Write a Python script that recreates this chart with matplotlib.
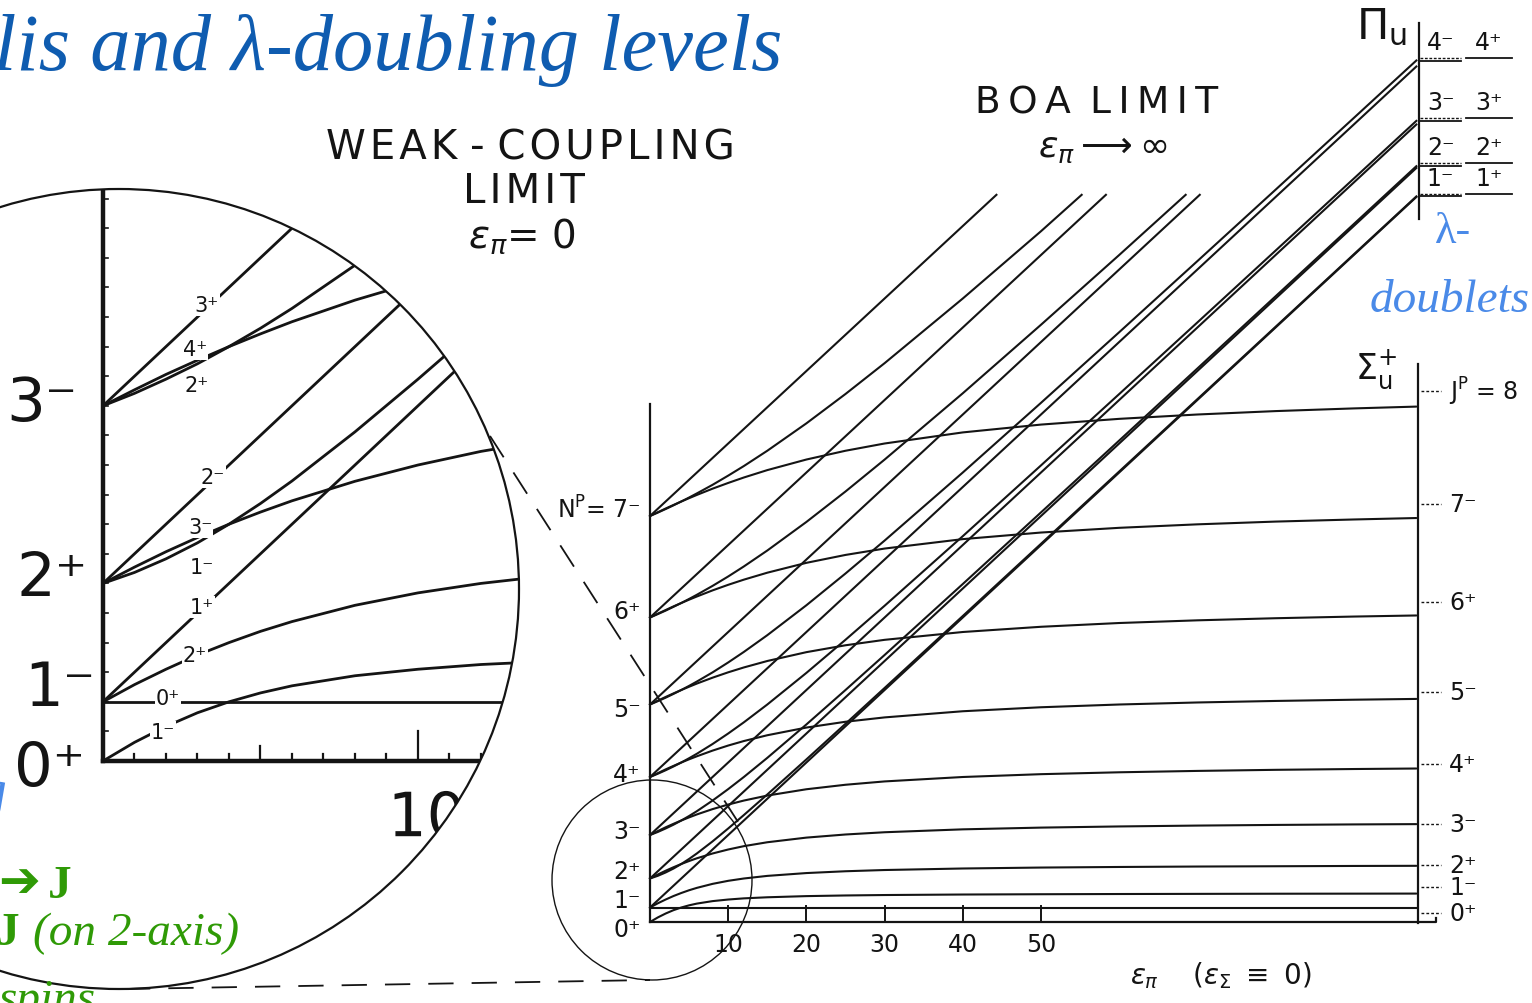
import matplotlib
matplotlib.use("Agg")
import matplotlib.pyplot as plt
from matplotlib.patches import Ellipse, PathPatch
from matplotlib.lines import Line2D
from matplotlib.textpath import TextPath
from matplotlib.font_manager import FontProperties
from matplotlib.transforms import Affine2D

W, H = 1532, 1004

# ---------------------------------------------------------------------------
# Level data (energies in units of the rotational constant B, eps_pi in B)
# ---------------------------------------------------------------------------
eps = [0, 1, 2, 3, 4, 5, 6, 8, 10, 12, 15, 20, 25, 30, 40, 50, 60, 70, 80, 90, 98]

# Sigma_u+ branches, J = 1..8 (flatten towards the strong-coupling limit)
sig1 = [0, 0.63, 1.17, 1.63, 2.0, 2.3, 2.54, 2.88, 3.1, 3.26, 3.41, 3.57, 3.66, 3.72, 3.79, 3.83, 3.86, 3.88, 3.9, 3.91, 3.92]
sig2 = [2, 2.58, 3.1, 3.58, 4.0, 4.38, 4.71, 5.26, 5.68, 6.0, 6.36, 6.75, 7.0, 7.17, 7.38, 7.51, 7.59, 7.65, 7.69, 7.73, 7.75]
sig3 = [6, 6.55, 7.07, 7.55, 8.0, 8.41, 8.79, 9.45, 10.0, 10.46, 11.0, 11.64, 12.07, 12.38, 12.78, 13.02, 13.18, 13.3, 13.39, 13.46, 13.5]
sig4 = [12, 12.54, 13.06, 13.54, 14.0, 14.43, 14.84, 15.57, 16.2, 16.75, 17.44, 18.31, 18.93, 19.39, 20.0, 20.39, 20.65, 20.84, 20.99, 21.1, 21.17]
sig5 = [20, 20.53, 21.05, 21.53, 22.0, 22.44, 22.86, 23.64, 24.34, 24.96, 25.76, 26.82, 27.62, 28.22, 29.07, 29.62, 30.0, 30.28, 30.49, 30.66, 30.77]
sig6 = [30, 30.53, 31.04, 31.53, 32.0, 32.45, 32.89, 33.7, 34.44, 35.11, 36.0, 37.22, 38.17, 38.92, 40.0, 40.72, 41.24, 41.61, 41.9, 42.13, 42.28]
sig7 = [42, 42.53, 43.03, 43.53, 44.0, 44.46, 44.9, 45.74, 46.51, 47.22, 48.18, 49.54, 50.63, 51.51, 52.81, 53.72, 54.37, 54.85, 55.23, 55.52, 55.72]
sig8 = [56, 56.52, 57.03, 57.52, 58.0, 58.46, 58.91, 59.77, 60.56, 61.31, 62.33, 63.79, 65.0, 66.0, 67.53, 68.61, 69.4, 70.0, 70.47, 70.84, 71.09]

# J = 0+ stays on the N = 1 level
sig0_eps = [0, 98]
sig0 = [2, 2]

# Pi_u branches that bend upward (J = N - 1)
pib1 = [6, 6.37, 6.83, 7.37, 8.0, 8.7, 9.46, 11.12, 12.9, 14.75, 17.59, 22.43, 27.34, 32.28, 42.21, 52.17, 62.14, 72.12, 82.1, 92.09, 100.08]
pib2 = [12, 12.42, 12.9, 13.42, 14.0, 14.62, 15.29, 16.75, 18.33, 20.0, 22.64, 27.25, 32.0, 36.83, 46.62, 56.5, 66.41, 76.35, 86.31, 96.27, 104.25]
pib3 = [20, 20.45, 20.93, 21.45, 22.0, 22.59, 23.21, 24.55, 26.0, 27.54, 30.0, 34.36, 38.93, 43.62, 53.22, 62.98, 72.82, 82.7, 92.61, 102.54, 110.5]
pib4 = [30, 30.46, 30.94, 31.46, 32.0, 32.57, 33.17, 34.43, 35.8, 37.25, 39.56, 43.69, 48.07, 52.61, 62.0, 71.61, 81.35, 91.16, 101.01, 110.9, 118.83]
pib5_eps = [0, 1, 2, 3, 4, 5, 6, 8, 10, 12, 15, 20, 25, 30, 40, 50, 60, 68.5]
pib5 = [42, 42.47, 42.95, 43.47, 44.0, 44.56, 45.14, 46.36, 47.66, 49.04, 51.24, 55.18, 59.38, 63.78, 72.93, 82.38, 92.0, 100.3]
pib6_eps = [0, 1, 2, 3, 4, 5, 6, 8, 10, 12, 15, 20, 25, 30, 40, 50, 55.2]
pib6 = [56, 56.47, 56.96, 57.47, 58.0, 58.55, 59.12, 60.3, 61.57, 62.89, 65.0, 68.78, 72.83, 77.08, 86.0, 95.28, 100.3]

# Pure Pi_u lines (J = N), straight from the N level
pis_E0 = [2, 6, 12, 20, 30, 42, 56]
pis_eps1 = [98, 98, 98, 98, 70.3, 58.3, 44.3]
pis_E1 = [100, 104, 110, 118, 100.3, 100.3, 100.3]

# weak-coupling (core rotation) levels N^P and where their labels sit
core_lab_E = [-1.0, 3.1, 7.0, 12.6, 20.4, 29.4, 42.9, 57.0]
core_lab = ["0\u207a", "1\u207b", "2\u207a", "3\u207b", "4\u207a", "5\u207b", "6\u207a", "N$^{\\mathrm{P}}$= 7\u207b"]

# strong-coupling Sigma_u+ labels J^P
sig_lab_E = [1.3, 4.8, 7.9, 13.5, 21.8, 31.7, 44.1, 57.7, 73.2]
sig_lab = ["0\u207a", "1\u207b", "2\u207a", "3\u207b", "4\u207a", "5\u207b", "6\u207a", "7\u207b", "J$^{\\mathrm{P}}$ = 8"]

# Pi_u lambda-doublet levels
pi_lev_J = [1, 2, 3, 4]
pi_lev_E = [100.1, 104.3, 110.5, 118.8]

xticks = [10, 20, 30, 40, 50]

sig_curves = [sig1, sig2, sig3, sig4, sig5, sig6, sig7, sig8]
pib_full = [pib1, pib2, pib3, pib4]

# ---------------------------------------------------------------------------
fig = plt.figure(figsize=(W / 100, H / 100), dpi=100)
fig.patch.set_facecolor("white")

LC = "#141414"
FONT = "DejaVu Sans"
HS = "\u200a"   # hair space for the spaced-out lettering


def spaced(s):
    return HS.join(s)


def ftxt(x, y, s, **kw):
    kw.setdefault("family", FONT)
    kw.setdefault("color", LC)
    return fig.text(x / W, 1 - y / H, s, **kw)


def draw_levels(ax, lw, clip=None):
    arts = []
    for s in sig_curves:
        arts += ax.plot(eps, s, color=LC, lw=lw, solid_capstyle="round")
    arts += ax.plot(sig0_eps, sig0, color=LC, lw=lw)
    for p in pib_full:
        arts += ax.plot(eps, p, color=LC, lw=lw)
    arts += ax.plot(pib5_eps, pib5, color=LC, lw=lw)
    arts += ax.plot(pib6_eps, pib6, color=LC, lw=lw)
    for e0, x1, e1 in zip(pis_E0, pis_eps1, pis_E1):
        arts += ax.plot([0, x1], [e0, e1], color=LC, lw=lw)
    if clip is not None:
        for a in arts:
            a.set_clip_path(clip)
    return arts


# ---- main (strong/weak coupling) diagram ---------------------------------
X0, SX = 650.0, 7.82     # pixel of eps = 0, pixels per unit
Y0, SY = 923.0, 7.25     # pixel of E = 0, pixels per unit
ax = fig.add_axes([0, 0, 1, 1])
ax.set_xlim(-X0 / SX, (W - X0) / SX)
ax.set_ylim((Y0 - H) / SY, Y0 / SY)
ax.axis("off")
ax.patch.set_alpha(0)

draw_levels(ax, 1.5)

# frame lines of the diagram
ax.plot([0, 0], [0, 71.4], color=LC, lw=1.6)
ax.plot([0, 100.5, 100.5], [0, 0, 0.6], color=LC, lw=1.6)
ax.plot([98.2, 98.2], [-0.2, 77.0], color=LC, lw=1.6)
ax.plot([98.3, 98.3], [97.0, 124.0], color=LC, lw=1.6)
for t in xticks:
    ax.plot([t, t], [0, 2.2], color=LC, lw=1.4)
    ax.text(t, -3.0, str(t), ha="center", va="center", fontsize=17, family=FONT, color=LC)

for e, lab in zip(core_lab_E, core_lab):
    ax.text(-1.2, e, lab, ha="right", va="center", fontsize=17, family=FONT, color=LC)

for e, lab in zip(sig_lab_E, sig_lab):
    ax.plot([98.6, 101.2], [e, e], color=LC, lw=1.0, ls=(0, (2, 1.5)))
    ax.text(102.2, e, lab, ha="left", va="center", fontsize=17, family=FONT, color=LC)

for j, e in zip(pi_lev_J, pi_lev_E):
    ax.plot([98.5, 103.7], [e, e], color=LC, lw=1.3)
    ax.plot([98.5, 103.7], [e + 0.35, e + 0.35], color=LC, lw=1.0, ls=(0, (2, 1.2)))
    ax.plot([104.4, 110.2], [e + 0.35, e + 0.35], color=LC, lw=1.3)
    ax.text(101.1, e + 0.9, f"{j}\u207b", ha="center", va="bottom", fontsize=17, family=FONT, color=LC)
    ax.text(107.3, e + 0.9, f"{j}\u207a", ha="center", va="bottom", fontsize=17, family=FONT, color=LC)

ax.text(93.6, 126.4, r"$\Pi_{\mathrm{u}}$", ha="center", va="top", fontsize=31, color=LC)
ax.text(92.8, 79.5, r"$\Sigma_{\mathrm{u}}^{+}$", ha="center", va="top", fontsize=25, color=LC)

ax.text(73.0, -7.2, r"$\epsilon_{\pi}$    ($\epsilon_{\Sigma}$ $\equiv$ 0)", ha="center", va="center",
        fontsize=20, family=FONT, color=LC)

# small magnifier circle and its guide lines
fig.add_artist(Ellipse((652 / W, 1 - 881 / H), 200 / W, 200 / H, transform=fig.transFigure,
                       fill=False, ec=LC, lw=1.0))
for (xa, ya), (xb, yb) in [((490, 437), (740, 826)), ((125, 990), (650, 981))]:
    fig.add_artist(Line2D([xa / W, xb / W], [1 - ya / H, 1 - yb / H], transform=fig.transFigure,
                          color=LC, lw=1.3, dashes=(14, 10)))

# ---- magnified view of the origin -----------------------------------------
ZX0, ZSX = 103.0, 31.5
ZY0, ZSY = 762.0, 29.6
axz = fig.add_axes([0, 0, 1, 1])
axz.set_xlim(-ZX0 / ZSX, (W - ZX0) / ZSX)
axz.set_ylim((ZY0 - H) / ZSY, ZY0 / ZSY)
axz.axis("off")
axz.patch.set_alpha(0)

cx, cy, R = 119.0, 590.0, 400.0
clip = Ellipse(((cx - ZX0) / ZSX, (ZY0 - cy) / ZSY), 2 * R / ZSX, 2 * R / ZSY,
               transform=axz.transData, fill=False, lw=0)
axz.add_patch(clip)
clip.set_visible(False)

draw_levels(axz, 2.0, clip=clip)
for a in axz.plot([0, 0], [0, 30], color=LC, lw=3.2) + axz.plot([0, 30], [0, 0], color=LC, lw=3.2):
    a.set_clip_path(clip)
for k in range(1, 20):
    a = axz.plot([0, 0.15], [k, k], color=LC, lw=1.2)[0]
    a.set_clip_path(clip)
for k in range(1, 13):
    h = 1.0 if k == 10 else (0.5 if k == 5 else 0.25)
    a = axz.plot([k, k], [0, h], color=LC, lw=1.6)[0]
    a.set_clip_path(clip)

# tick label "10" of the magnified axis, drawn as an outline so the circle can cut it
tp = TextPath((0, 0), "10", size=61, prop=FontProperties(family=FONT))
ext = tp.get_extents()
lab_x, lab_y = 428.0, 815.0   # pixel centre of the label
tr = Affine2D().translate(lab_x - (ext.x0 + ext.x1) / 2, (H - lab_y) - (ext.y0 + ext.y1) / 2)
p10 = PathPatch(tp, transform=tr, fc=LC, ec="none")
axz.add_artist(p10)
p10.set_clip_path(clip)

fig.add_artist(Ellipse((cx / W, 1 - cy / H), 2 * R / W, 2 * R / H, transform=fig.transFigure,
                       fill=False, ec=LC, lw=1.6))

# large N^P labels of the magnified axis
for (x, y, s) in [(42, 405, "3\u207b"), (52, 580, "2\u207a"), (60, 690, "1\u207b"), (50, 770, "0\u207a")]:
    ftxt(x, y, s, ha="center", va="center", fontsize=44)

# small J^P labels along the magnified curves
small = [(207, 306, "3\u207a"), (195, 350, "4\u207a"), (197, 386, "2\u207a"), (213, 478, "2\u207b"),
         (200, 528, "3\u207b"), (202, 568, "1\u207b"), (202, 608, "1\u207a"), (195, 656, "2\u207a"),
         (168, 699, "0\u207a"), (163, 733, "1\u207b")]
for (x, y, s) in small:
    ftxt(x, y, s, ha="center", va="center", fontsize=15,
         bbox=dict(boxstyle="square,pad=0.05", fc="white", ec="none"))

# ---- headings --------------------------------------------------------------
ftxt(530, 148, spaced("WEAK") + " - " + spaced("COUPLING"), ha="center", va="center", fontsize=29)
ftxt(524, 192, spaced("LIMIT"), ha="center", va="center", fontsize=29)
ftxt(522, 236, r"$\epsilon_{\pi}$= 0", ha="center", va="center", fontsize=28)
ftxt(1097, 104, "B\u2009O\u2009A\u2009 L\u2009I\u2009M\u2009I\u2009T", ha="center", va="center", fontsize=27)
ftxt(1103, 148, r"$\epsilon_{\pi}\longrightarrow\infty$", ha="center", va="center", fontsize=26)

# ---- annotation text -------------------------------------------------------
ftxt(782, 70, "Coriolis and \u03bb-doubling levels", ha="right", va="baseline", fontsize=58,
     family="Liberation Serif", style="italic", color="#0f5cb0")
ftxt(1453, 243, "\u03bb-", ha="center", va="baseline", fontsize=32,
     family="Liberation Serif", color="#4a8ae8")
ftxt(1530, 312, "doublets", ha="right", va="baseline", fontsize=34,
     family="Liberation Serif", style="italic", color="#4a8ae8")
ftxt(7, 808, "g", ha="right", va="baseline", fontsize=40,
     family="Liberation Serif", style="italic", color="#4a8ae8")

GREEN = "#2f9a06"
ftxt(40, 897, "\u2794", ha="right", va="baseline", fontsize=36, family="DejaVu Sans", color=GREEN)
ftxt(48, 898, "J", ha="left", va="baseline", fontsize=34, family="Liberation Serif",
     weight="bold", color=GREEN)
ftxt(-4, 945, "J", ha="left", va="baseline", fontsize=34, family="Liberation Serif",
     weight="bold", color=GREEN)
ftxt(33, 945, "(on 2-axis)", ha="left", va="baseline", fontsize=34, family="Liberation Serif",
     style="italic", color=GREEN)
ftxt(-2, 1012, "spins", ha="left", va="baseline", fontsize=34, family="Liberation Serif",
     style="italic", color=GREEN)

fig.savefig("out.png", dpi=100, facecolor="white")
